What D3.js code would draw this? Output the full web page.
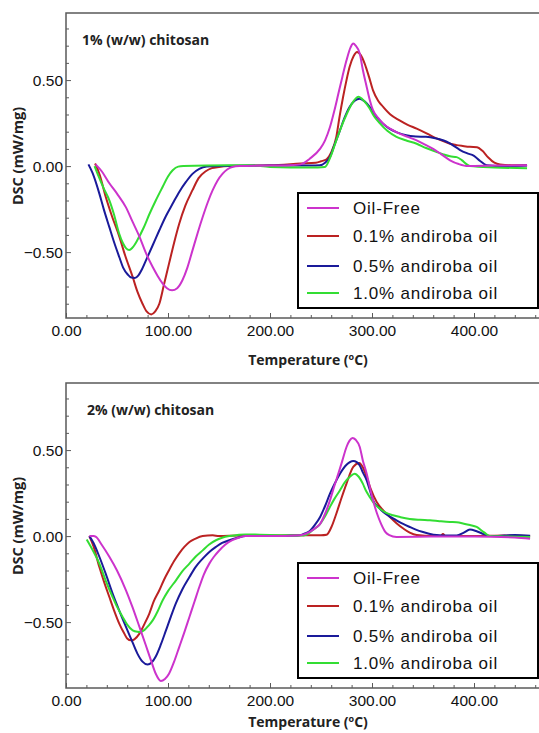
<!DOCTYPE html>
<html>
<head>
<meta charset="utf-8">
<script src="https://cdn.jsdelivr.net/npm/d3@7"></script>
<style>
  html, body { margin: 0; padding: 0; background: #fff; }
  svg { display: block; }
</style>
</head>
<body>
<svg id="chart" width="539" height="733"></svg>
<script>
// ---------------- DATA ----------------
const seriesNames = ["Oil-Free", "0.1% andiroba oil", "0.5% andiroba oil", "1.0% andiroba oil"];
const panelTitles = ["1% (w/w) chitosan", "2% (w/w) chitosan"];
const xMajorTicks = [0, 100, 200, 300, 400];
const yMajorTicks = [-0.5, 0, 0.5];

// Panel 1: 1% chitosan  [temperature °C, DSC mW/mg]
const p1_oilFree = [[29,0.01],[35,-0.03],[42.5,-0.10],[50,-0.16],[58.8,-0.24],[65,-0.32],[72,-0.41],[78,-0.50],[85,-0.587],[90,-0.64],[94.8,-0.683],[99,-0.71],[104,-0.722],[109,-0.71],[114,-0.665],[119,-0.59],[124,-0.49],[129,-0.39],[134,-0.296],[139,-0.21],[143.8,-0.14],[148.5,-0.085],[153.6,-0.044],[158,-0.02],[163,-0.005],[170,0],[200,0.003],[220,0.005],[230,0.01],[239,0.043],[249,0.10],[254,0.15],[258.8,0.227],[263,0.32],[267,0.42],[271,0.52],[275,0.615],[279,0.69],[281.6,0.712],[284,0.70],[288,0.654],[291,0.56],[294.8,0.46],[298,0.38],[301,0.325],[306,0.28],[311,0.247],[320,0.21],[327,0.189],[335,0.17],[343.8,0.15],[352,0.125],[360,0.10],[368,0.068],[376.5,0.034],[385,0.012],[394,0.0],[420,0.003],[452,0.005]];
const p1_oil01 = [[28.5,0.015],[33,-0.05],[39,-0.18],[45,-0.29],[52.3,-0.41],[58,-0.52],[65.4,-0.645],[70,-0.73],[75,-0.80],[79,-0.845],[83.5,-0.862],[87.5,-0.845],[91.5,-0.80],[96,-0.69],[101,-0.567],[106,-0.445],[111,-0.335],[117,-0.23],[124,-0.14],[130,-0.07],[137,-0.03],[143,-0.012],[150,-0.005],[160,0],[200,0.005],[230,0.015],[245,0.02],[250,0.028],[255.5,0.04],[260,0.08],[265,0.17],[268,0.28],[271.6,0.40],[275,0.50],[278,0.576],[282,0.64],[285.3,0.664],[289,0.645],[292.8,0.596],[297,0.52],[301,0.44],[306,0.38],[311,0.344],[318,0.30],[327,0.266],[335,0.24],[343.8,0.218],[352,0.195],[360,0.17],[368,0.15],[376.5,0.13],[383,0.122],[389,0.117],[396,0.112],[403,0.11],[408,0.09],[414,0.05],[420,0.02],[425.5,0.01],[440,0.005],[452,0.005]];
const p1_oil05 = [[22,0.01],[26,-0.04],[32.7,-0.16],[37,-0.25],[42.5,-0.355],[47,-0.44],[52.3,-0.53],[56,-0.59],[60.5,-0.63],[64,-0.648],[67.5,-0.65],[71,-0.635],[74.5,-0.60],[78.4,-0.548],[85,-0.46],[91.5,-0.373],[98,-0.29],[104.6,-0.218],[111,-0.15],[117.6,-0.092],[124,-0.045],[130.7,-0.016],[138,-0.003],[150,0],[200,0.003],[240,0.003],[248.9,0.005],[254,0.02],[258.8,0.053],[263,0.12],[268.6,0.208],[273,0.28],[278,0.344],[283,0.38],[288,0.392],[293,0.375],[297.7,0.344],[302,0.305],[307.5,0.266],[312,0.24],[317,0.218],[325,0.195],[333.6,0.179],[343,0.172],[353,0.17],[362,0.162],[369.6,0.15],[375,0.137],[379.4,0.121],[386,0.095],[393,0.075],[400,0.06],[406,0.03],[412.4,0.005],[430,0],[452,0.003]];
const p1_oil10 = [[28,0.0],[32,-0.06],[37,-0.13],[42.5,-0.199],[47,-0.28],[52,-0.39],[56,-0.45],[59,-0.478],[62,-0.487],[65,-0.475],[70,-0.43],[76,-0.36],[81.7,-0.28],[88,-0.20],[94.8,-0.12],[100,-0.06],[104.6,-0.024],[110,-0.003],[115,0.0],[160,0.005],[180,0.005],[200,-0.005],[240,-0.008],[253.8,-0.005],[259,0.05],[265,0.15],[270,0.23],[275,0.30],[280,0.36],[286.6,0.403],[292,0.38],[297.7,0.335],[302,0.29],[307.5,0.25],[315,0.205],[324,0.17],[333,0.15],[343.8,0.13],[353,0.105],[363.4,0.082],[370,0.068],[376.5,0.057],[383,0.052],[388,0.035],[393,0.01],[396,0.0],[420,-0.008],[452,-0.012]];

// Panel 2: 2% chitosan
const p2_oilFree = [[22.9,0.0],[27,0.0],[29.4,-0.005],[35,-0.05],[42.5,-0.12],[50,-0.2],[58.8,-0.315],[65,-0.41],[72,-0.528],[78,-0.63],[83.3,-0.722],[88,-0.80],[93,-0.842],[97,-0.83],[101,-0.80],[106,-0.73],[111,-0.645],[116,-0.56],[121,-0.47],[126,-0.38],[130.7,-0.296],[135,-0.225],[140.5,-0.16],[145,-0.12],[150,-0.085],[156,-0.05],[163,-0.024],[170,-0.008],[176,0.0],[200,0.0],[230,0.005],[239,0.024],[244,0.045],[249,0.07],[254,0.13],[258.8,0.208],[263,0.29],[267,0.363],[271,0.44],[275,0.518],[278,0.555],[281,0.571],[284,0.56],[288,0.518],[291,0.44],[294.8,0.363],[298,0.28],[301,0.208],[305,0.13],[309,0.07],[313,0.025],[317,0.006],[324,-0.005],[360,-0.003],[400,-0.003],[440,-0.008],[455,-0.015]];
const p2_oil01 = [[22.9,0.0],[27,-0.06],[32.7,-0.18],[37,-0.26],[42.5,-0.354],[47,-0.43],[52.3,-0.51],[57,-0.565],[60,-0.595],[63.7,-0.606],[67,-0.6],[72,-0.567],[77,-0.51],[81.7,-0.45],[86,-0.38],[91.5,-0.315],[96,-0.255],[101,-0.198],[106,-0.145],[111,-0.10],[116,-0.063],[121,-0.034],[127,-0.015],[134,0.0],[143.8,0.005],[150,0.0],[170,0.003],[200,0.003],[230,0.005],[250,0.005],[255.5,0.008],[260,0.05],[265,0.13],[270,0.22],[275,0.305],[281.6,0.402],[287.5,0.425],[291,0.40],[294.8,0.343],[299,0.27],[304.6,0.198],[311,0.15],[317.6,0.111],[324,0.075],[330.7,0.044],[337,0.02],[343.8,0.006],[360,0.0],[367,0.0],[369.6,0.012],[372,0.0],[400,0.0],[430,0.003],[455,0.0]];
const p2_oil05 = [[22.9,0.0],[27,-0.04],[32.7,-0.12],[39,-0.22],[45.7,-0.334],[52,-0.43],[58.8,-0.528],[64,-0.6],[70,-0.683],[75,-0.73],[80,-0.747],[84,-0.735],[88,-0.70],[93,-0.63],[98,-0.548],[103,-0.465],[107.8,-0.39],[114,-0.31],[121,-0.238],[127,-0.18],[134,-0.131],[140,-0.095],[147,-0.063],[153,-0.04],[160,-0.024],[168,-0.01],[176,0.0],[200,0.0],[220,0.003],[229,0.005],[234,0.015],[239,0.03],[244,0.065],[249,0.11],[254,0.175],[258.8,0.247],[263,0.3],[268.6,0.363],[275,0.415],[281.6,0.437],[285,0.43],[288,0.41],[291,0.37],[294.8,0.324],[298,0.265],[301,0.208],[306,0.17],[311,0.14],[317,0.115],[324,0.092],[330,0.072],[337,0.053],[343,0.038],[350,0.024],[356,0.014],[363.4,0.006],[375,0.003],[383,0.003],[390,0.02],[396,0.038],[402,0.03],[410,0.01],[415.7,0.0],[430,0.003],[440,0.006],[455,0.002]];
const p2_oil10 = [[20.3,-0.02],[26,-0.08],[32.7,-0.16],[39,-0.26],[45.7,-0.354],[50,-0.41],[55.5,-0.47],[60,-0.515],[65.4,-0.548],[70,-0.556],[72.5,-0.557],[77,-0.545],[81,-0.52],[85,-0.49],[90,-0.435],[94.8,-0.373],[100,-0.32],[107.8,-0.257],[114,-0.205],[121,-0.16],[127,-0.12],[134,-0.083],[140,-0.05],[147,-0.024],[153,-0.01],[160,0.0],[168,0.006],[176,0.01],[190,0.008],[210,0.005],[230,0.003],[235.6,0.008],[242,0.035],[249,0.07],[254,0.115],[258.8,0.17],[263,0.215],[268.6,0.266],[273,0.31],[278,0.343],[283,0.363],[287,0.345],[291,0.305],[294,0.265],[297.7,0.228],[302,0.19],[307.5,0.16],[313,0.138],[320.6,0.121],[328,0.11],[337,0.10],[347,0.095],[356.8,0.092],[366,0.087],[376.5,0.082],[383,0.08],[390,0.072],[396,0.064],[402.6,0.053],[408,0.03],[412,0.012],[415.7,0.0],[430,-0.002],[455,-0.005]];

const seriesColors = ["#cc33cc", "#bb2222", "#1a1a9a", "#33dd33"];

// ---------------- DRAW ----------------
const svg = d3.select("#chart");
const panels = [
  { title: panelTitles[0], series: [p1_oilFree, p1_oil01, p1_oil05, p1_oil10], top: 13, titleX: 82 , xLabelDy: 47, ylabelY: 156 },
  { title: panelTitles[1], series: [p2_oilFree, p2_oil01, p2_oil05, p2_oil10], top: 383, titleX: 87, xLabelDy: 39, ylabelY: 526 }
];
const L = 66, R = 540, H = 305;
const frameColor = "#5a5a5a";

panels.forEach((p, pi) => {
  const top = p.top, bottom = top + H;
  const x = d3.scaleLinear().domain([0, 464.7]).range([L, R]);
  const y = d3.scaleLinear().domain([-0.883, 0.89]).range([bottom, top]);
  const g = svg.append("g");

  // clip
  const clipId = "clip" + pi;
  svg.append("clipPath").attr("id", clipId).append("rect")
    .attr("x", L).attr("y", top).attr("width", R - L).attr("height", H);

  // minor ticks x
  const minorX = d3.range(20, 465, 20).filter(v => v % 100 !== 0);
  g.append("g").attr("transform", `translate(0,${bottom})`)
    .call(d3.axisBottom(x).tickValues(minorX).tickSize(-3).tickFormat(""))
    .call(s => s.select(".domain").remove())
    .call(s => s.selectAll("line").attr("stroke", frameColor));
  // major ticks x
  g.append("g").attr("transform", `translate(0,${bottom})`)
    .call(d3.axisBottom(x).tickValues(xMajorTicks).tickSize(-5).tickPadding(7).tickFormat(d3.format(".2f")))
    .call(s => s.select(".domain").remove())
    .call(s => s.selectAll("line").attr("stroke", frameColor))
    .call(s => s.selectAll("text").attr("font-family", "Liberation Sans, Arial, sans-serif").attr("font-size", "15.5px").attr("fill", "#111"));

  // minor ticks y
  const minorY = d3.range(-8, 9).map(v => v / 10).filter(v => Math.abs(v) > 1e-9 && Math.abs(Math.abs(v) - 0.5) > 1e-9);
  g.append("g").attr("transform", `translate(${L},0)`)
    .call(d3.axisLeft(y).tickValues(minorY).tickSize(-3).tickFormat(""))
    .call(s => s.select(".domain").remove())
    .call(s => s.selectAll("line").attr("stroke", frameColor));
  g.append("g").attr("transform", `translate(${L},0)`)
    .call(d3.axisLeft(y).tickValues(yMajorTicks).tickSize(-5).tickPadding(3).tickFormat(d3.format(".2f")))
    .call(s => s.select(".domain").remove())
    .call(s => s.selectAll("line").attr("stroke", frameColor))
    .call(s => s.selectAll("text").attr("font-family", "Liberation Sans, Arial, sans-serif").attr("font-size", "15.5px").attr("fill", "#111"));

  // frame
  g.append("rect").attr("x", L).attr("y", top).attr("width", R - L).attr("height", H)
    .attr("fill", "none").attr("stroke", frameColor).attr("stroke-width", 1.5);

  // curves
  const line = d3.line().x(d => x(d[0])).y(d => y(d[1])).curve(d3.curveMonotoneX);
  const cg = g.append("g").attr("clip-path", `url(#${clipId})`);
  [1, 2, 3, 0].forEach(i => {
    cg.append("path").datum(p.series[i]).attr("d", line)
      .attr("fill", "none").attr("stroke", seriesColors[i]).attr("stroke-width", 2)
      .attr("stroke-linejoin", "round");
  });

  // panel title
  g.append("text").attr("x", p.titleX).attr("y", top + 32).text(p.title)
    .attr("font-family", "Open Sans, sans-serif").attr("font-weight", 700).attr("font-size", "14px").attr("fill", "#222");

  // legend
  const lg = g.append("g");
  lg.append("rect").attr("x", 298).attr("y", top + 180).attr("width", 240).attr("height", 115)
    .attr("fill", "#fff").attr("stroke", "#000").attr("stroke-width", 2);
  const rows = [195, 223, 253, 280];
  seriesNames.forEach((name, i) => {
    lg.append("line").attr("x1", 307).attr("x2", 339).attr("y1", top + rows[i]).attr("y2", top + rows[i])
      .attr("stroke", seriesColors[i]).attr("stroke-width", 2);
    lg.append("text").attr("x", 353).attr("y", top + rows[i] + 6).text(name)
      .attr("font-family", "Liberation Sans, Arial, sans-serif").attr("font-size", "17px")
      .attr("letter-spacing", "0.8px").attr("fill", "#111");
  });

  // x label
  const xl = g.append("text").attr("x", 308).attr("y", bottom + p.xLabelDy).attr("text-anchor", "middle")
    .attr("font-family", "Open Sans, sans-serif").attr("font-weight", 700).attr("font-size", "14px").attr("fill", "#222");
  xl.append("tspan").text("Temperature (");
  xl.append("tspan").text("o").attr("font-size", "9px").attr("dy", -5);
  xl.append("tspan").text("C)").attr("dy", 5);

  // y label
  g.append("text").attr("transform", `translate(23,${p.ylabelY}) rotate(-90)`).attr("text-anchor", "middle")
    .text("DSC (mW/mg)")
    .attr("font-family", "Open Sans, sans-serif").attr("font-weight", 700).attr("font-size", "14.5px").attr("fill", "#222");
});
</script>
</body>
</html>
